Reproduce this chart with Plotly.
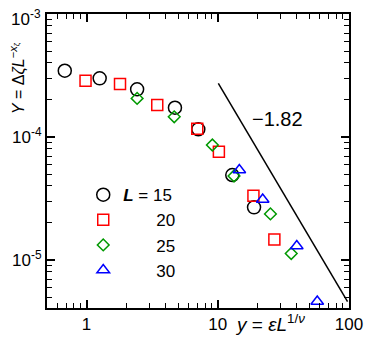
import plotly.graph_objects as go

# scaled data
x15 = [0.683, 1.26, 2.43, 4.72, 7.11, 12.9, 18.9]
y15 = [3.46e-4, 3.00e-4, 2.44e-4, 1.73e-4, 1.156e-4, 4.91e-5, 2.68e-5]

x20 = [0.983, 1.80, 3.46, 6.98, 10.2, 18.7, 27.0]
y20 = [2.87e-4, 2.70e-4, 1.82e-4, 1.168e-4, 7.59e-5, 3.33e-5, 1.47e-5]

x25 = [2.43, 4.66, 9.10, 13.3, 25.2, 36.3]
y25 = [2.06e-4, 1.46e-4, 8.61e-5, 4.82e-5, 2.37e-5, 1.13e-5]

x30 = [14.6, 22.0, 40.0, 57.3]
y30 = [5.4e-5, 3.1e-5, 1.3e-5, 4.6e-6]

# power-law guide, slope -1.82
line_x = [10.1, 97.5]
line_y = [2.73e-4, 4.58e-6]

FONT = "Liberation Sans, Arial, sans-serif"
sp = "\u2007"

fig = go.Figure()

fig.add_trace(go.Scatter(x=line_x, y=line_y, mode="lines",
                         line=dict(color="black", width=1.5), showlegend=False))

series = [
    (x15, y15, "circle-open", 13, "black", "<b><i>L</i></b> = 15"),
    (x20, y20, "square-open", 11, "#ff0000", sp * 3 + " 20"),
    (x25, y25, "diamond-open", 9, "#009900", sp * 3 + " 25"),
    (x30, y30, "triangle-up-open", 11, "#0000ff", sp * 3 + " 30"),
]
for xs, ys, sym, sz, col, name in series:
    fig.add_trace(go.Scatter(x=xs, y=ys, mode="markers", name=name,
                             marker=dict(symbol=sym, size=sz, color=col,
                                         line=dict(color=col, width=1.5))))

minor_x = [0.5, 0.6, 0.7, 0.8, 0.9] + list(range(2, 10)) + list(range(20, 100, 10))
minor_y = [k * 10.0 ** e for e in (-6, -5, -4) for k in range(2, 10)]

axis_common = dict(type="log", showgrid=False, zeroline=False, automargin=False,
                   showline=True, linecolor="black", linewidth=2,
                   mirror="ticks", ticks="inside", ticklen=8, tickwidth=1.5,
                   tickcolor="black",
                   tickfont=dict(family=FONT, size=17, color="black"))

fig.update_xaxes(**axis_common, range=[-0.301, 2.0],
                 tickvals=[1, 10, 100], ticktext=["1", "10", "100"],
                 minor=dict(tickvals=minor_x, ticks="inside", ticklen=5,
                            tickwidth=1.2, tickcolor="black", showgrid=False))
# top label is drawn as an annotation so it isn't clipped at the page edge
fig.update_yaxes(**axis_common, range=[-5.39, -3.0],
                 tickvals=[1e-5, 1e-4, 1e-3],
                 ticktext=["10<sup>-5</sup>", "10<sup>-4</sup>", ""],
                 minor=dict(tickvals=minor_y, ticks="inside", ticklen=5,
                            tickwidth=1.2, tickcolor="black", showgrid=False))
fig.add_annotation(x=-0.012, y=0.985, xref="paper", yref="paper",
                   xanchor="right", yanchor="middle",
                   text="10<sup>-3</sup>", showarrow=False,
                   font=dict(family=FONT, size=17, color="black"))

fig.add_annotation(x=0.762, y=0.643, xref="paper", yref="paper",
                   xanchor="center", yanchor="middle",
                   text="\u22121.82", showarrow=False,
                   font=dict(family=FONT, size=20, color="black"))
fig.add_annotation(x=0.616, y=-0.051, xref="paper", yref="paper",
                   xanchor="left", yanchor="middle",
                   text="<i>y</i> = <i>\u03b5L</i><sup>1/<i>\u03bd</i></sup>",
                   showarrow=False, font=dict(family=FONT, size=19, color="black"))
fig.add_annotation(x=-0.099, y=0.782, xref="paper", yref="paper", textangle=-90,
                   xanchor="center", yanchor="middle",
                   text="<i>Y</i> = \u0394<i>\u03b6L</i><sup>\u2212<i>x</i><sub>\u03b6</sub></sup>",
                   showarrow=False, font=dict(family=FONT, size=16, color="black"))

# page body has an 8px margin, so the figure is shrunk by that much
fig.update_layout(
    width=367, height=333,
    margin=dict(l=39, r=26, t=6, b=33, autoexpand=False),
    plot_bgcolor="white", paper_bgcolor="white",
    font=dict(family=FONT, color="black"),
    legend=dict(x=0.12, y=0.445, xanchor="left", yanchor="top",
                bgcolor="rgba(0,0,0,0)", itemwidth=30,
                font=dict(family=FONT, size=17, color="black"),
                tracegroupgap=0),
)

fig.write_html("out.html")
